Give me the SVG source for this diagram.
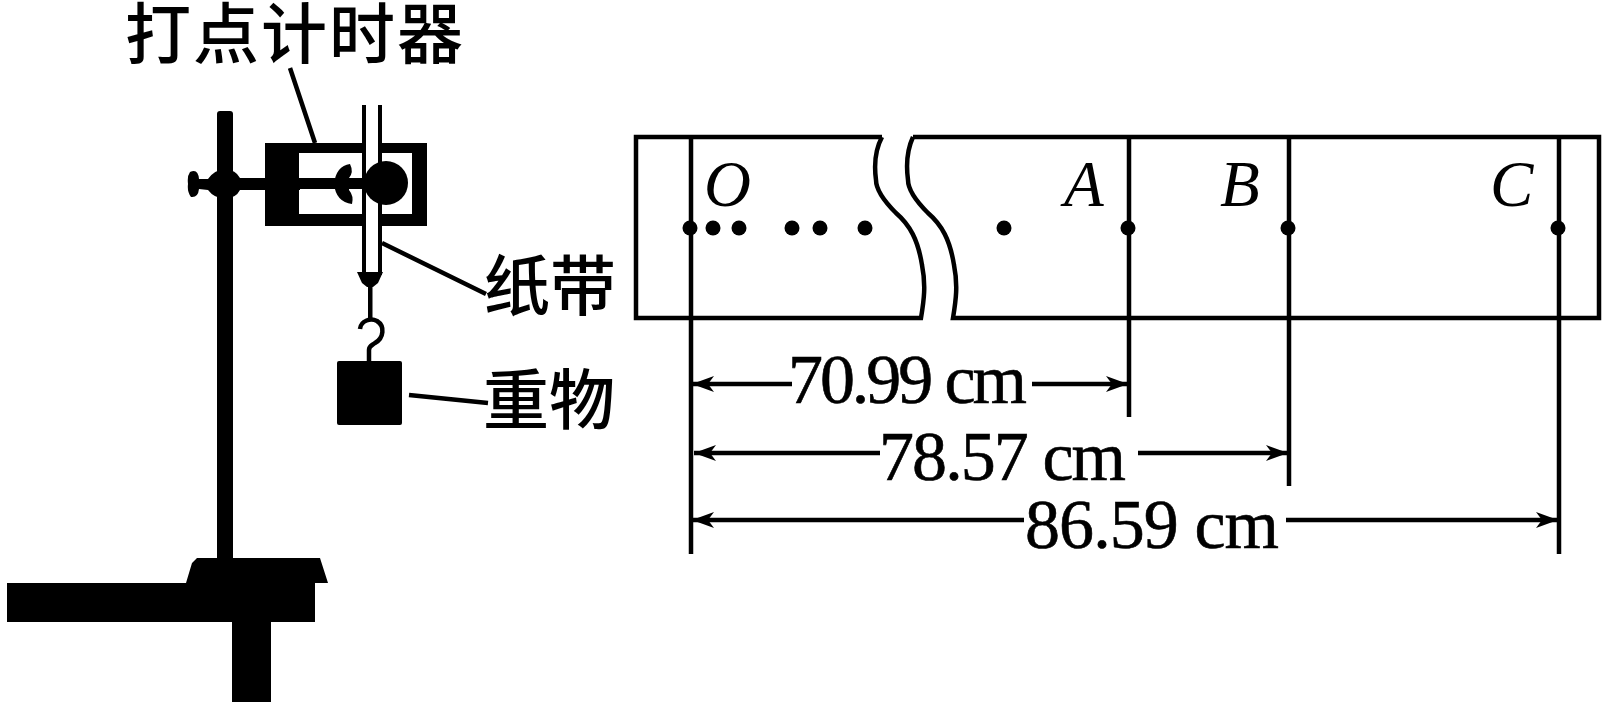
<svg xmlns="http://www.w3.org/2000/svg" width="1614" height="722" viewBox="0 0 1614 722">
<style>
.k{fill:#000;stroke:none}
.l{fill:none;stroke:#000;stroke-width:4.5}
.cn{font-family:"Liberation Serif","Noto Sans CJK SC","Noto Sans CJK JP",sans-serif;font-size:66px;font-weight:500;fill:#000}
.it{font-family:"Liberation Serif",serif;font-style:italic;font-size:65px;fill:#000}
.dm{font-family:"Liberation Serif",serif;font-size:70px;fill:#000;stroke:#000;stroke-width:.6}
</style>
<defs>
<marker id="ah" markerUnits="userSpaceOnUse" markerWidth="24" markerHeight="18" refX="22" refY="9" orient="auto-start-reverse" viewBox="0 0 24 18"><path d="M0,1 L22,9 L0,17 L6,9z" fill="#000"/></marker>
</defs>
<rect width="1614" height="722" fill="#fff"/>
<g id="stand">
<rect class="k" x="217" y="111" width="16" height="460" rx="3"/>
<path class="k" d="M197,558 L320,558 L328,583 L315,583 L315,622 L271,622 L271,702 L232,702 L232,622 L7,622 L7,583 L186,583 L192,563 Z"/>
<path class="k" d="M190,172 Q198,168 199,179 L208,179 Q214,170 225,169 Q236,170 240,178 L300,178 L300,190 L240,190 Q236,198 225,199 Q214,198 208,190 L199,189 Q198,198 191,197 Q187,192 188,184 Q187,176 190,172Z"/>
</g>
<g id="timer">
<path class="k" fill-rule="evenodd" d="M265,143 H427 V226 H265 Z M299,153 V214 H412 V153 Z"/>
<rect class="k" x="299" y="178" width="66" height="11"/>
<path class="k" d="M350,164 Q336,166 334,184 Q336,202 352,204 Q354,196 349,190 L349,178 Q354,172 350,164 Z"/>
<rect x="366" y="105" width="13" height="170" fill="#fff"/>
<rect class="k" x="362" y="105" width="4" height="170"/>
<rect class="k" x="378" y="105" width="4" height="170"/>
<circle class="k" cx="386" cy="183" r="22"/>
</g>
<g id="weight">
<path class="k" d="M357,272 H383 L378,283 L373,287 H367 L362,283 Z"/>
<rect class="k" x="368" y="285" width="4.5" height="36"/>
<path class="l" d="M360,329 C361,320 371,318 377,321 C385,326 384,338 375,343 C371,346 369,346 369,350 V363"/>
<rect class="k" x="337" y="361" width="65" height="64" rx="2"/>
</g>
<g id="tape">
<path class="l" d="M882,137 H636 V318 H921 C924,300 926,285 922,265 C918,240 910,225 896,213 C883,200 876,190 876,180 C874,165 875,150 882,137"/>
<path class="l" d="M913,137 H1599 V318 H953 C956,300 958,285 954,265 C950,240 942,225 928,213 C915,200 908,190 908,180 C906,165 907,150 913,137"/>
</g>
<g id="dots">
<circle class="k" cx="690" cy="228" r="7.5"/><circle class="k" cx="713" cy="228" r="7.5"/><circle class="k" cx="739" cy="228" r="7.5"/><circle class="k" cx="792" cy="228" r="7.5"/><circle class="k" cx="820" cy="228" r="7.5"/><circle class="k" cx="865" cy="228" r="7.5"/><circle class="k" cx="1004" cy="228" r="7.5"/><circle class="k" cx="1128" cy="228" r="7.5"/><circle class="k" cx="1288" cy="228" r="7.5"/><circle class="k" cx="1558" cy="228" r="7.5"/>
</g>
<g id="connectors">
<path class="l" d="M691,137 V554 M1129,135 V417 M1289,137 V486 M1559,137 V554"/>
<path class="l" d="M290,68 L315,143 M382,243 L486,294 M409,395 L488,403"/>
<path class="l" marker-end="url(#ah)" d="M792,384 H692"/>
<path class="l" marker-end="url(#ah)" d="M1032,384 H1128"/>
<path class="l" marker-end="url(#ah)" d="M880,453 H694"/>
<path class="l" marker-end="url(#ah)" d="M1138,453 H1288"/>
<path class="l" marker-end="url(#ah)" d="M1024,520 H692"/>
<path class="l" marker-end="url(#ah)" d="M1286,520 H1558"/>
</g>
<g id="labels">
<text class="cn" x="125" y="58" letter-spacing="2">打点计时器</text>
<text class="cn" x="484" y="310">纸带</text>
<text class="cn" x="483" y="424">重物</text>
<text class="it" x="704" y="206">O</text>
<text class="it" x="1064" y="206">A</text>
<text class="it" x="1220" y="206">B</text>
<text class="it" x="1490" y="206">C</text>
<text class="dm" x="788" y="403" textLength="239">70.99 cm</text>
<text class="dm" x="879" y="480" textLength="247">78.57 cm</text>
<text class="dm" x="1025" y="548" textLength="254">86.59 cm</text>
</g>
</svg>
